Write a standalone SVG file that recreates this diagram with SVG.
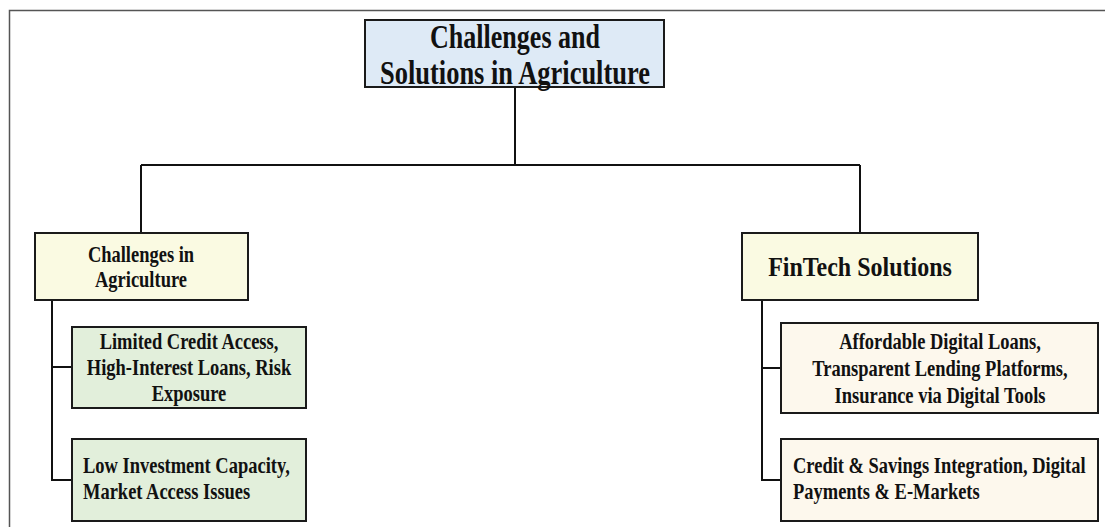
<svg xmlns="http://www.w3.org/2000/svg" width="1105" height="527" viewBox="0 0 1105 527">
<style>
.t{font-family:"Liberation Serif","Times New Roman",serif;font-weight:bold;fill:#111;}
.c{text-anchor:middle;}
.b{font-size:24px;}
.box{stroke:#1a1a1a;stroke-width:2;}
.ln{stroke:#111;stroke-width:2;fill:none;}
</style>
<rect x="0" y="0" width="1105" height="527" fill="#fff"/>
<path d="M9.5 527 V10.5 H1105" fill="none" stroke="#555" stroke-width="1.5"/>
<g id="connectors">
<path class="ln" d="M515 87 V165 M141 165 H860 M141 165 V233 M860 165 V233"/>
<path class="ln" d="M52 300 V480 H72 M52 367 H72"/>
<path class="ln" d="M762 300 V480 H781 M762 368 H781"/>
</g>
<g id="root">
<rect class="box" x="365" y="20" width="299" height="67" fill="#deeaf6" stroke-width="2.5"/>
<text class="t c" x="515" y="48" font-size="34" textLength="170" lengthAdjust="spacingAndGlyphs">Challenges and</text>
<text class="t c" x="515" y="84" font-size="34" textLength="270" lengthAdjust="spacingAndGlyphs">Solutions in Agriculture</text>
</g>
<g id="challenges">
<rect class="box" x="35" y="233" width="213" height="67" fill="#fafae2"/>
<g transform="translate(141 0) scale(0.77 1)">
<text class="t c b" x="0" y="262">Challenges in</text>
<text class="t c b" x="0" y="287">Agriculture</text>
</g>
</g>
<g id="ch1">
<rect class="box" x="72" y="327" width="234" height="81" fill="#e2efdb"/>
<g transform="translate(189 0) scale(0.77 1)">
<text class="t c b" x="0" y="349">Limited Credit Access,</text>
<text class="t c b" x="0" y="375">High-Interest Loans, Risk</text>
<text class="t c b" x="0" y="401">Exposure</text>
</g>
</g>
<g id="ch2">
<rect class="box" x="72" y="439" width="234" height="82" fill="#e2efdb"/>
<g transform="translate(83 0) scale(0.77 1)">
<text class="t b" x="0" y="473">Low Investment Capacity,</text>
<text class="t b" x="0" y="499">Market Access Issues</text>
</g>
</g>
<g id="fintech">
<rect class="box" x="742" y="233" width="236" height="67" fill="#fafae2"/>
<g transform="translate(860 0) scale(0.857 1)">
<text class="t c" x="0" y="276" font-size="28">FinTech Solutions</text>
</g>
</g>
<g id="fs1">
<rect class="box" x="781" y="323" width="317" height="90" fill="#fdf8ed"/>
<g transform="translate(940 0) scale(0.77 1)">
<text class="t c b" x="0" y="349">Affordable Digital Loans,</text>
<text class="t c b" x="0" y="376">Transparent Lending Platforms,</text>
<text class="t c b" x="0" y="403">Insurance via Digital Tools</text>
</g>
</g>
<g id="fs2">
<rect class="box" x="781" y="439" width="317" height="82" fill="#fdf8ed"/>
<g transform="translate(793 0) scale(0.77 1)">
<text class="t b" x="0" y="473">Credit &amp; Savings Integration, Digital</text>
<text class="t b" x="0" y="499">Payments &amp; E-Markets</text>
</g>
</g>
</svg>
